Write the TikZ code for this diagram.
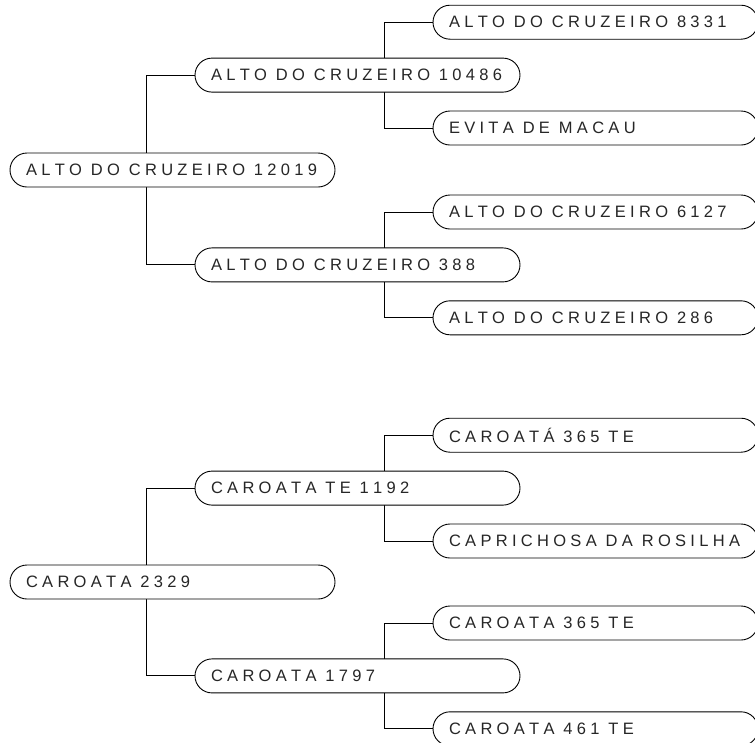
\documentclass[tikz,border=0pt]{standalone}
\usepackage{fontspec}
\newfontfamily\pedfont{Liberation Sans}
\usetikzlibrary{positioning,backgrounds}
% letter-spaced names
\ExplSyntaxOn
\NewDocumentCommand \spacedname { m }
  {
    \seq_set_split:Nnn \l_tmpa_seq { ~ } { #1 }
    \seq_map_indexed_inline:Nn \l_tmpa_seq
      {
        \int_compare:nNnT { ##1 } > { 1 } { \nobreak\hspace{4.6pt} }
        \tl_map_inline:nn { ##2 } { ####1 \kern 4.3pt }
      }
  }
\ExplSyntaxOff

\begin{document}
\begin{tikzpicture}[
  x=1pt, y=-1pt,
  box/.style={draw, line width=0.9pt, fill=white, rounded corners=17pt,
  minimum height=34pt, text width=293pt, inner xsep=16pt, inner ysep=0pt,
  align=left, text=black!85, font=\pedfont\fontsize{16.5}{20}\selectfont},
  link/.style={line width=0.9pt}
]
  \useasboundingbox (0,0) rectangle (755,742);
  \clip (0,0) rectangle (755,742);
  % first pedigree
  \node[box] (alto) at (172.5,170) {\spacedname{ALTO DO CRUZEIRO 12019}};
  \node[box, above=60pt of alto, xshift=185pt] (altosire) {\spacedname{ALTO DO CRUZEIRO 10486}};
  \node[box, below=60pt of alto, xshift=185pt] (altodam) {\spacedname{ALTO DO CRUZEIRO 388}};
  \node[box, above=18pt of altosire, xshift=238pt] (altoss) {\spacedname{ALTO DO CRUZEIRO 8331}};
  \node[box, below=18pt of altosire, xshift=238pt] (altosd) {\spacedname{EVITA DE MACAU}};
  \node[box, above=18pt of altodam, xshift=238pt] (altods) {\spacedname{ALTO DO CRUZEIRO 6127}};
  \node[box, below=18pt of altodam, xshift=238pt] (altodd) {\spacedname{ALTO DO CRUZEIRO 286}};
  % second pedigree
  \node[box] (caroata) at (172.5,582) {\spacedname{CAROATA 2329}};
  \node[box, above=59pt of caroata, xshift=185pt] (caroatasire) {\spacedname{CAROATA TE 1192}};
  \node[box, below=59pt of caroata, xshift=185pt] (caroatadam) {\spacedname{CAROATA 1797}};
  \node[box, above=18pt of caroatasire, xshift=238pt] (caroatass) {\spacedname{CAROATÁ 365 TE}};
  \node[box, below=18pt of caroatasire, xshift=238pt] (caroatasd) {\spacedname{CAPRICHOSA DA ROSILHA}};
  \node[box, above=18pt of caroatadam, xshift=238pt] (caroatads) {\spacedname{CAROATA 365 TE}};
  \node[box, below=18pt of caroatadam, xshift=238pt] (caroatadd) {\spacedname{CAROATA 461 TE}};
  \begin{scope}[on background layer]
    \draw[link] (altosire.west) -- ++(-48pt,0) |- (altodam.west);
    \draw[link] (altoss.west) -- ++(-48pt,0) |- (altosd.west);
    \draw[link] (altods.west) -- ++(-48pt,0) |- (altodd.west);
    \draw[link] (caroatasire.west) -- ++(-48pt,0) |- (caroatadam.west);
    \draw[link] (caroatass.west) -- ++(-48pt,0) |- (caroatasd.west);
    \draw[link] (caroatads.west) -- ++(-48pt,0) |- (caroatadd.west);
  \end{scope}
\end{tikzpicture}
\end{document}
